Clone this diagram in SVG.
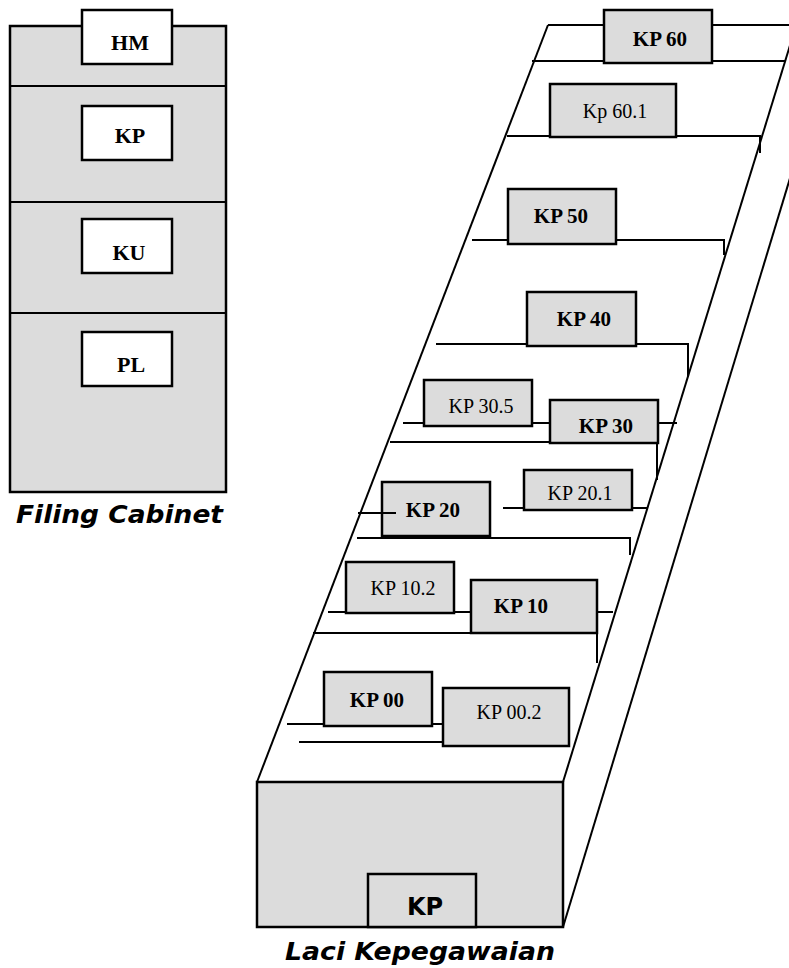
<svg xmlns="http://www.w3.org/2000/svg" width="789" height="968" viewBox="0 0 789 968">
<style>
.bg{fill:#dcdcdc;stroke:#000;stroke-width:2.5}
.wb{fill:#fff;stroke:#000;stroke-width:2.5}
.ln{stroke:#000;stroke-width:2;fill:none}
.tb{font-family:"Liberation Serif","Times New Roman",serif;font-weight:bold;font-size:21px;text-anchor:middle;fill:#000}
.tc{font-family:"Liberation Serif","Times New Roman",serif;font-weight:bold;font-size:22px;text-anchor:middle;fill:#000}
.tr{font-family:"Liberation Serif","Times New Roman",serif;font-size:20px;text-anchor:middle;fill:#000}
.cap{font-family:"DejaVu Sans",Verdana,sans-serif;font-weight:bold;font-style:italic;font-size:25px;fill:#000}
.ks{font-family:"DejaVu Sans",Verdana,sans-serif;font-weight:bold;font-size:24px;text-anchor:middle;fill:#000}
</style>
<rect width="789" height="968" fill="#fff"/>
<g id="filing-cabinet">
<rect class="bg" x="10" y="26" width="216" height="466"/>
<line class="ln" x1="10" y1="86" x2="226" y2="86" stroke-width="2.5"/>
<line class="ln" x1="10" y1="202" x2="226" y2="202" stroke-width="2.5"/>
<line class="ln" x1="10" y1="313" x2="226" y2="313" stroke-width="2.5"/>
<g id="cab-hm"><rect class="wb" x="82" y="10" width="90" height="54"/><text class="tc" x="130" y="50">HM</text></g>
<g id="cab-kp"><rect class="wb" x="82" y="106" width="90" height="54"/><text class="tc" x="130" y="143">KP</text></g>
<g id="cab-ku"><rect class="wb" x="82" y="219" width="90" height="54"/><text class="tc" x="129" y="260">KU</text></g>
<g id="cab-pl"><rect class="wb" x="82" y="332" width="90" height="54"/><text class="tc" x="131" y="372">PL</text></g>
<text class="cap" x="16" y="523" textLength="207" lengthAdjust="spacingAndGlyphs">Filing Cabinet</text>
</g>
<g id="drawer-frame">
<line class="ln" x1="548" y1="25" x2="257" y2="782"/>
<line class="ln" x1="563" y1="782" x2="804" y2="0"/>
<line class="ln" x1="563" y1="927" x2="844" y2="0"/>
<rect class="bg" x="257" y="782" width="306" height="145"/>
<g id="front-kp"><rect class="bg" x="368" y="874" width="108" height="53"/><text class="ks" x="425" y="915">KP</text></g>
<text class="cap" x="285" y="960" textLength="270" lengthAdjust="spacingAndGlyphs">Laci Kepegawaian</text>
</g>
<g id="nodes">
<g id="kp60"><rect class="bg" x="604" y="10" width="108" height="53"/><text class="tb" x="660" y="46">KP 60</text></g>
<g id="kp601"><rect class="bg" x="550" y="84" width="126" height="53"/><text class="tr" x="615" y="118">Kp 60.1</text></g>
<g id="kp50"><rect class="bg" x="508" y="189" width="108" height="55"/><text class="tb" x="561" y="223">KP 50</text></g>
<g id="kp40"><rect class="bg" x="527" y="292" width="109" height="54"/><text class="tb" x="584" y="326">KP 40</text></g>
<g id="kp305"><rect class="bg" x="424" y="380" width="108" height="46"/><text class="tr" x="481" y="413">KP 30.5</text></g>
<g id="kp30"><rect class="bg" x="550" y="400" width="108" height="43"/><text class="tb" x="606" y="433">KP 30</text></g>
<g id="kp201"><rect class="bg" x="524" y="470" width="108" height="40"/><text class="tr" x="580" y="500">KP 20.1</text></g>
<g id="kp20"><rect class="bg" x="382" y="482" width="108" height="54"/><text class="tb" x="433" y="517">KP 20</text></g>
<g id="kp102"><rect class="bg" x="346" y="562" width="108" height="51"/><text class="tr" x="403" y="595">KP 10.2</text></g>
<g id="kp10"><rect class="bg" x="471" y="580" width="126" height="53"/><text class="tb" x="521" y="613">KP 10</text></g>
<g id="kp00"><rect class="bg" x="324" y="672" width="108" height="54"/><text class="tb" x="377" y="707">KP 00</text></g>
<g id="kp002"><rect class="bg" x="443" y="688" width="126" height="58"/><text class="tr" x="509" y="719">KP 00.2</text></g>
</g>
<g id="connectors" class="ln">
<path d="M548 25H604M712 25H789"/>
<path d="M532 61H604M712 61H785"/>
<path d="M507 136H550M676 136H760V153"/>
<path d="M472 240H508M616 240H724V255"/>
<path d="M436 344H527M636 344H688V377"/>
<path d="M403 423H424M532 423H550M658 423H677"/>
<path d="M390 442H550M657 443V480"/>
<path d="M503 508H524M632 508H647"/>
<path d="M358 513H396"/>
<path d="M357 538H630V555"/>
<path d="M328 612H346M454 612H471M597 612H613"/>
<path d="M313 633H471M597 633V663"/>
<path d="M287 724H324M432 724H443"/>
<path d="M299 742H443"/>
</g>
</svg>
